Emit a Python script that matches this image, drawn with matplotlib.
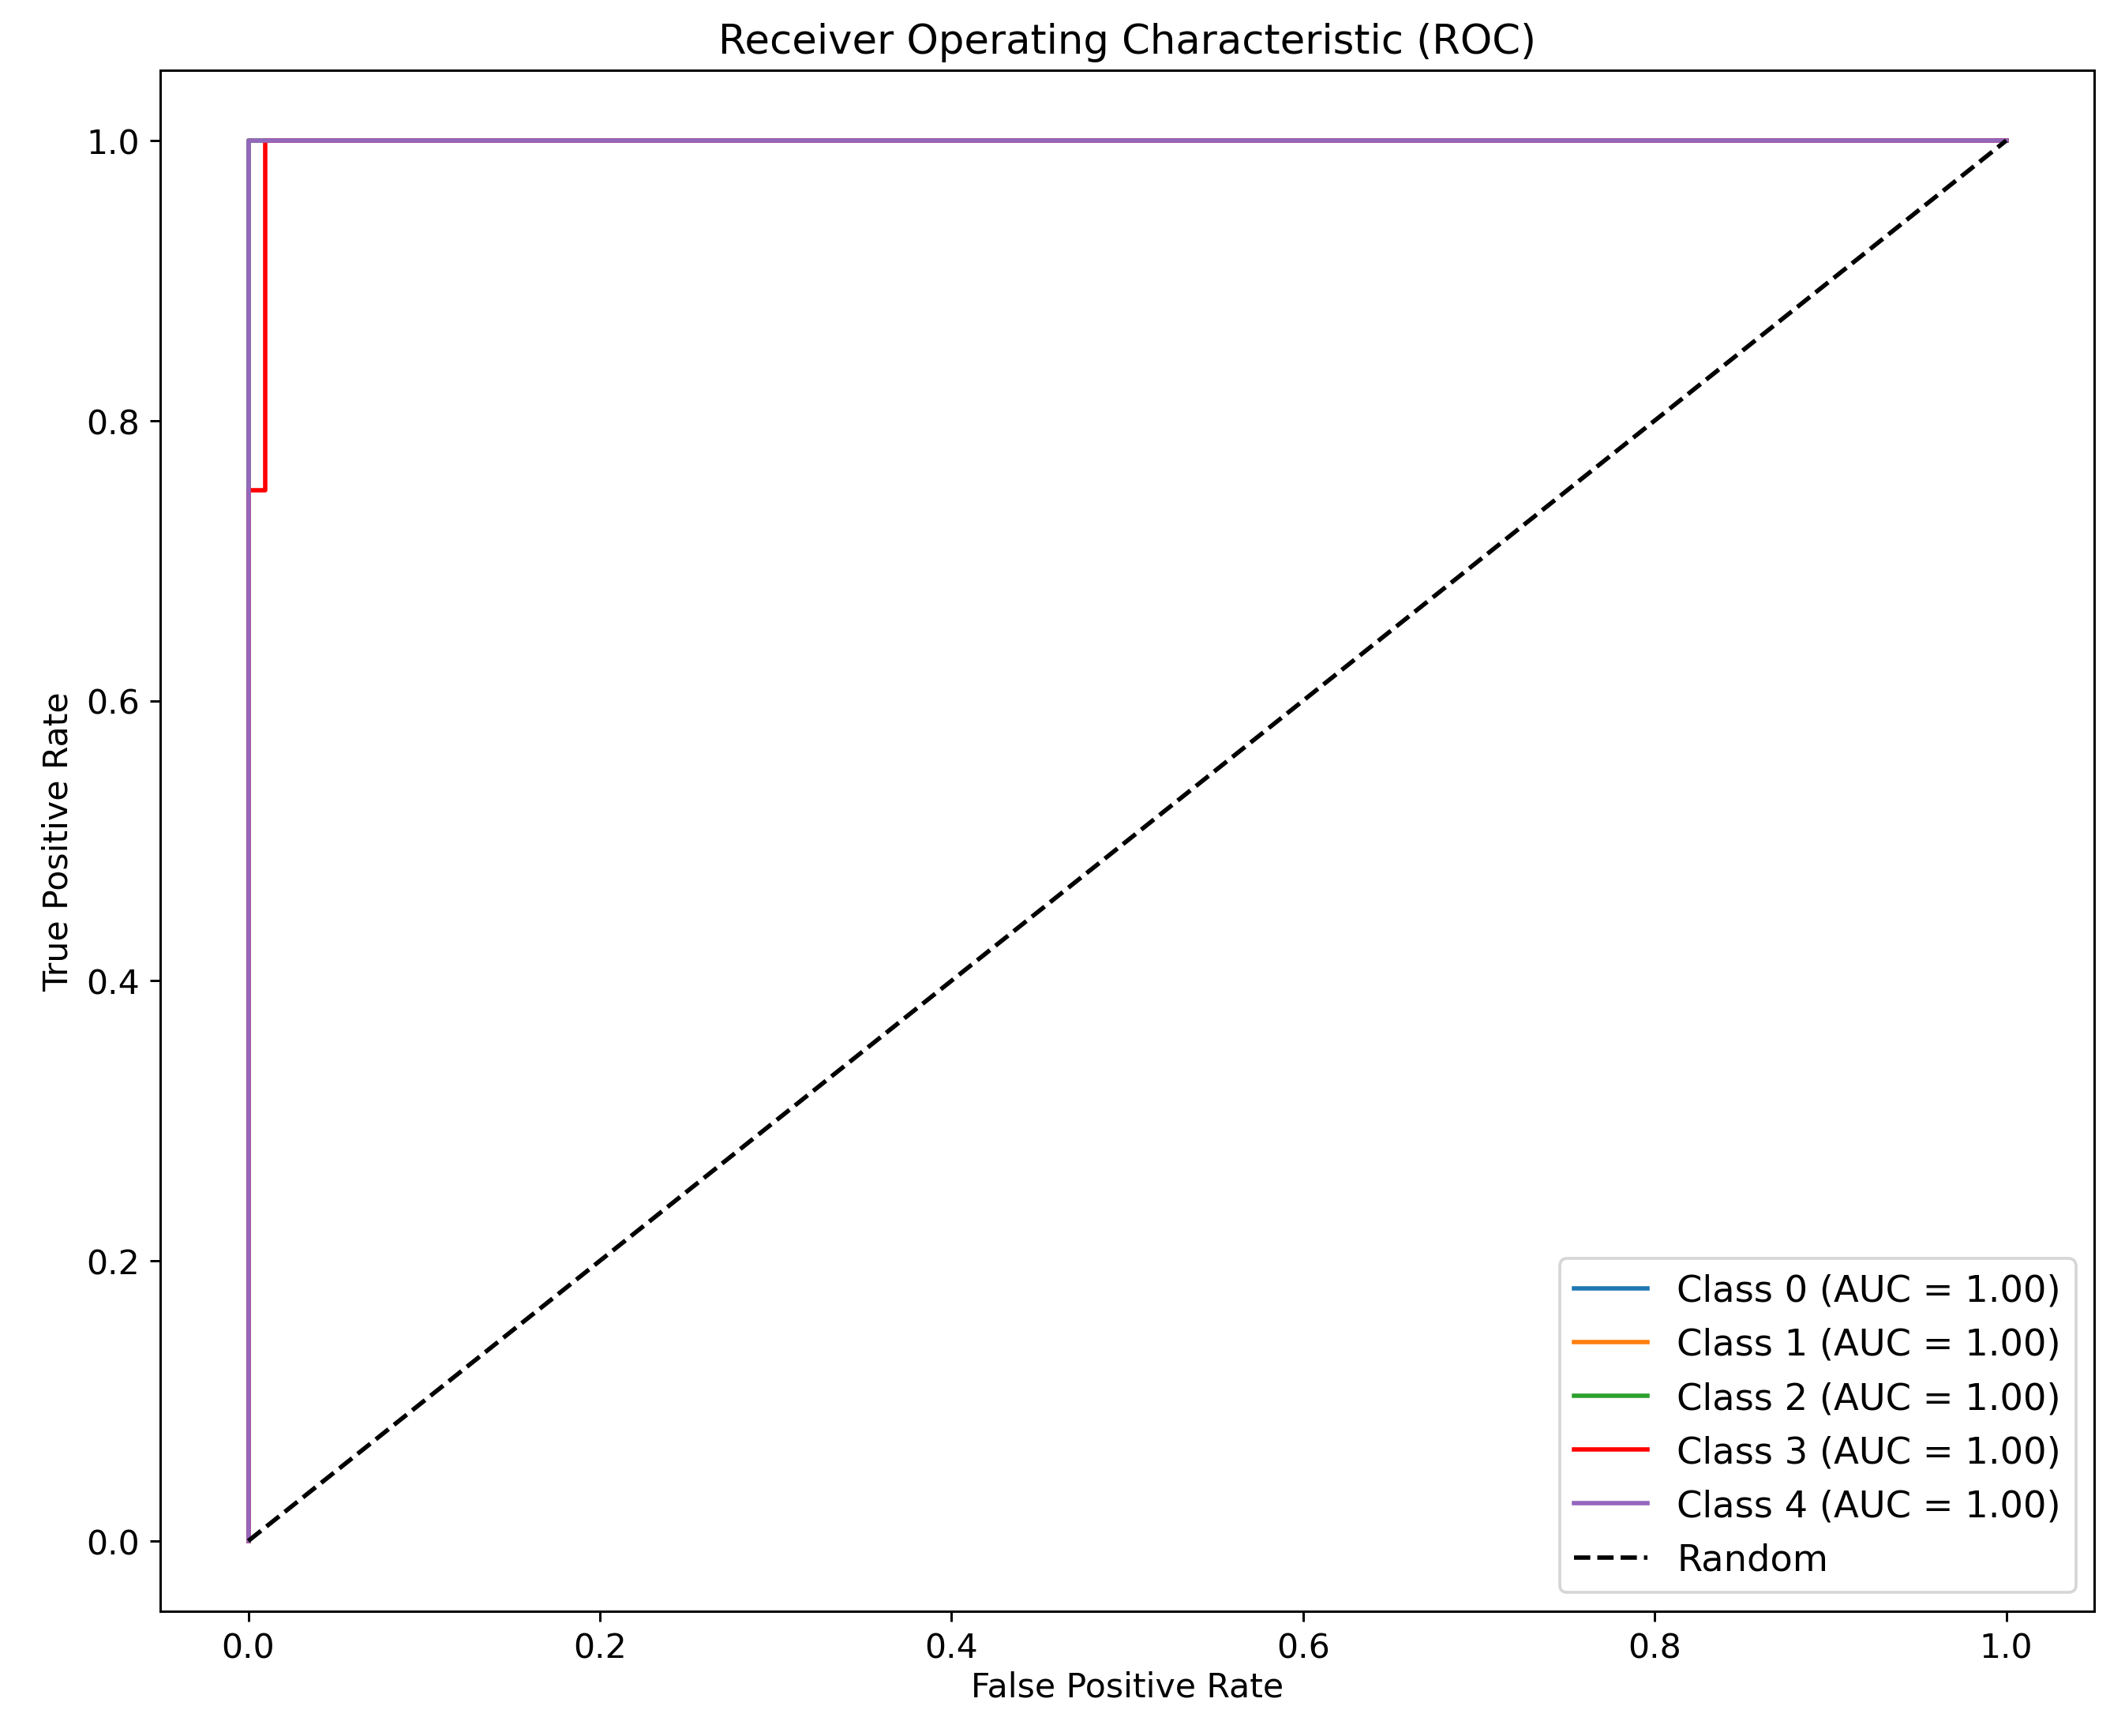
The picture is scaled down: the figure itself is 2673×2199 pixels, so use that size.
import matplotlib
matplotlib.use("Agg")
import matplotlib.pyplot as plt

plt.rcParams["font.size"] = 11.5

classes = ["Class 0", "Class 1", "Class 2", "Class 3", "Class 4"]
colors = ["#1f77b4", "#ff7f0e", "#2ca02c", "red", "#9467bd"]
aucs = [1.00, 1.00, 1.00, 1.00, 1.00]
fpr_perfect = [0.0, 0.0, 1.0]
tpr_perfect = [0.0, 1.0, 1.0]
fpr_class3 = [0.0, 0.0, 0.0095, 0.0095, 1.0]
tpr_class3 = [0.0, 0.75, 0.75, 1.0, 1.0]

fig = plt.figure(figsize=(10, 8.23), dpi=267.3)
ax = fig.add_axes([0.076, 0.072, 0.9165, 0.887])
for i, (c, col, a) in enumerate(zip(classes, colors, aucs)):
    if i == 3:
        x, y = fpr_class3, tpr_class3
    else:
        x, y = fpr_perfect, tpr_perfect
    ax.plot(x, y, color=col, label=f"{c} (AUC = {a:.2f})")
ax.plot([0, 1], [0, 1], "k--", label="Random")
ax.set_xlabel("False Positive Rate", labelpad=2)
ax.set_ylabel("True Positive Rate")
ax.set_title("Receiver Operating Characteristic (ROC)")
ax.legend(loc="lower right", fontsize=12.5)
fig.savefig("out.png", dpi=267.3)
